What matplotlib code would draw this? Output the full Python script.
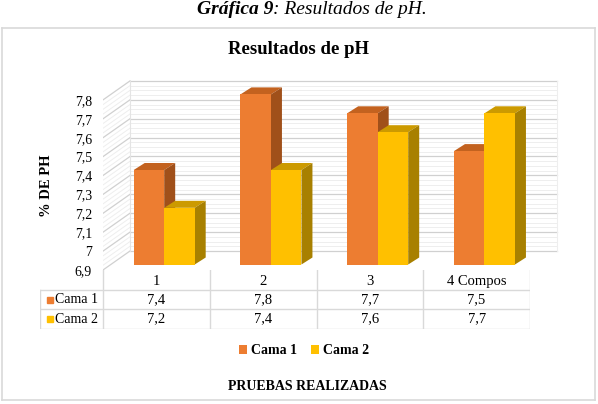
import numpy as np
import matplotlib
matplotlib.use("Agg")
from matplotlib import pyplot as plt
from matplotlib.patches import Polygon

plt.rcParams['font.family'] = ['Liberation Serif', 'DejaVu Serif']

categories = ['1', '2', '3', '4 Compos']
series = ['Cama 1', 'Cama 2']
cama1 = [7.4, 7.8, 7.7, 7.5]
cama2 = [7.2, 7.4, 7.6, 7.7]
yticks = [6.9, 7.0, 7.1, 7.2, 7.3, 7.4, 7.5, 7.6, 7.7, 7.8]

front_colors = ['#ED7D31', '#FFC000']
top_colors = ['#C3621F', '#CC9A00']
side_colors = ['#A0501A', '#A88000']

W, H = 598, 404


def rect(left, top, right, bottom):
    # pixel box -> figure fraction [l, b, w, h]
    return [left / W, 1 - bottom / H, (right - left) / W, (bottom - top) / H]


fig = plt.figure(figsize=(W / 100, H / 100), dpi=100)

# chart border
border = fig.add_axes(rect(2, 28, 595, 400))
border.set_xticks([])
border.set_yticks([])
for s in border.spines.values():
    s.set_color('#D9D9D9')
    s.set_linewidth(1.2)
border.patch.set_alpha(0)

# caption
fig.text(273 / W, 1 - 14 / H, 'Gráfica 9', ha='right', va='baseline',
         fontsize=14, style='italic', weight='bold')
fig.text(273 / W, 1 - 14 / H, ': Resultados de pH.', ha='left', va='baseline',
         fontsize=14, style='italic')

fig.text(299 / W, 1 - 50 / H, 'Resultados de pH', ha='center', va='center',
         fontsize=13.5, weight='bold')

# main 3d-ish plot, front plane coordinates
px_cat = 106.75
px_unit = 189.0
ymin, ymax = 6.9, 7.95
xmin, xmax = -0.5, 3.8
ax = fig.add_axes(rect(103, 270 - (ymax - ymin) * px_unit,
                       103 + (xmax - xmin) * px_cat, 270))
ax.set_xlim(xmin, xmax)
ax.set_ylim(ymin, ymax)
ax.patch.set_alpha(0)
for s in ax.spines.values():
    s.set_visible(False)
ax.set_xticks([])
ax.set_yticks(yticks, [f'{v:g}'.replace('.', ',') for v in yticks])
ax.tick_params(axis='y', length=0, pad=8, labelsize=10)

DX, DY = 27 / px_cat, 19 / px_unit          # full wall depth
lo, hi = yticks[0], yticks[-1]

# walls
ax.add_patch(Polygon([(xmin, lo), (xmin, hi), (xmin + DX, hi + DY), (xmin + DX, lo + DY)],
                     closed=True, facecolor='white', edgecolor='none', zorder=0))
minor = np.arange(lo, hi + 1e-9, 0.025)
for v in minor:
    major = abs(round(v * 10) - v * 10) < 1e-6
    c = '#D0D0D0' if major else '#EEEEEE'
    lw = 0.9 if major else 0.7
    ax.plot([xmin + DX, 3.5 + DX], [v + DY, v + DY], color=c, lw=lw, zorder=1)
    ax.plot([xmin, xmin + DX], [v, v + DY], color=c, lw=lw, zorder=1)
ax.plot([xmin + DX, xmin + DX], [lo + DY, hi + DY], color='#E4E4E4', lw=0.8, zorder=1)
ax.plot([3.5 + DX, 3.5 + DX], [lo + DY, hi + DY], color='#EEEEEE', lw=0.8, zorder=1)

# bars
bw = 30.5 / px_cat
f0 = 5.5 / 19                       # depth fraction where bar fronts sit
bdx, bdy = 11 / px_cat, 7 / px_unit  # bar depth
x = np.arange(len(categories))
handles = []
for k, vals in enumerate([cama1, cama2]):
    xs = x + (k - 0.5) * bw + f0 * DX
    base = lo + f0 * DY
    for xi, v in zip(xs, vals):
        top = v + f0 * DY
        x0, x1 = xi - bw / 2, xi + bw / 2
        ax.add_patch(Polygon([(x0, top), (x1, top), (x1 + bdx, top + bdy), (x0 + bdx, top + bdy)],
                             closed=True, facecolor=top_colors[k], edgecolor='none', zorder=3 + 2 * k))
        ax.add_patch(Polygon([(x1, base), (x1, top), (x1 + bdx, top + bdy), (x1 + bdx, base + bdy)],
                             closed=True, facecolor=side_colors[k], edgecolor='none', zorder=3 + 2 * k))
    b = ax.bar(xs, np.array(vals) - lo, bottom=base, width=bw, color=front_colors[k],
               zorder=4 + 2 * k, label=series[k])
    handles.append(b)

fig.text(46 / W, 1 - 186 / H, '% DE PH', rotation=90, ha='center', va='center',
         fontsize=10.5, weight='bold')

# data table
lab_w = 63 / px_cat
tax = fig.add_axes(rect(40, 270, 40 + (4 + lab_w) * px_cat, 329))
tax.set_xlim(-0.5 - lab_w, 3.5)
tax.set_ylim(3, 0)
tax.axis('off')
gc = '#D9D9D9'
for k in range(5):
    tax.plot([-0.5 + k, -0.5 + k], [0, 3], color=gc, lw=1)
tax.plot([-0.5 - lab_w, -0.5 - lab_w], [1, 3], color=gc, lw=1)
for r in [1, 2, 3]:
    tax.plot([-0.5 - lab_w, 3.5], [r, r], color=gc, lw=1)
for i, c in enumerate(categories):
    tax.text(i, 0.6, c, ha='center', va='center', fontsize=10.5)
for k, vals in enumerate([cama1, cama2]):
    row = 1.5 + k
    tax.plot(-0.5 - lab_w + 10 / px_cat, row, marker='s', ms=5, color=front_colors[k], lw=0)
    tax.text(-0.5 - lab_w + 15 / px_cat, row, series[k], ha='left', va='center', fontsize=10)
    for i, v in enumerate(vals):
        tax.text(i, row, f'{v:g}'.replace('.', ','), ha='center', va='center', fontsize=10.5)

fig.legend(handles=handles, labels=series, loc='center', bbox_to_anchor=(304 / W, 1 - 351 / H),
           ncol=2, frameon=False, handlelength=0.55, handleheight=0.55, handletextpad=0.3,
           columnspacing=1.0, prop={'weight': 'bold', 'size': 10})

fig.text(307 / W, 1 - 386 / H, 'PRUEBAS REALIZADAS', ha='center', va='center',
         fontsize=10, weight='bold')

fig.savefig('out.png', dpi=100)
